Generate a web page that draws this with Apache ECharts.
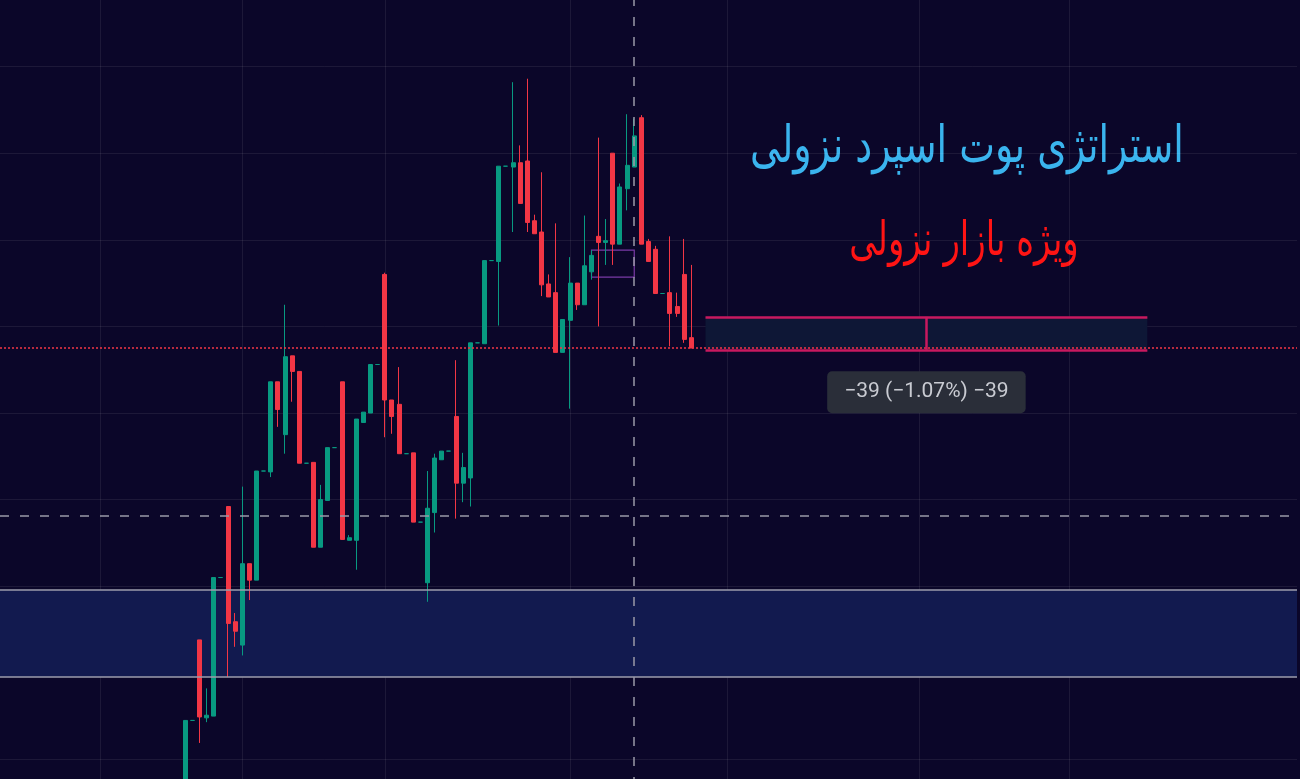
<!DOCTYPE html>
<html dir="ltr" lang="en">
<head>
<meta charset="utf-8">
<script src="https://cdn.jsdelivr.net/npm/echarts@6/dist/echarts.min.js"></script>
<style>
html,body{margin:0;padding:0;background:#0b0629;overflow:hidden;width:1300px;height:779px;}
#chart{position:absolute;left:0;top:-20px;width:1300px;height:866px;direction:ltr;}
</style>
</head>
<body>
<div id="chart"></div>
<script>
// ---- data ----
const opens  = [3053,3145,3238,3148,3150,3310,3392,3259,3232,3326,3307,3433,3432,3536,3475,3566,3548,3442,3443,3345,3399,3460,3536,3353,3353,3489,3500,3556,3660,3515,3510,3453,3454,3374,3304,3385,3446,3456,3496,3419,3425,3581,3580,3676,3675,3785,3784,3789,3791,3722,3709,3649,3639,3570,3607,3650,3625,3663,3704,3697,3800,3695,3759,3784,3841,3698,3689,3638,3639,3623,3660,3587];
const closes = [3145,3145,3149,3151,3310,3310,3257,3248,3326,3307,3433,3433,3536,3504,3565,3548,3442,3442,3345,3400,3460,3460,3354,3356,3493,3501,3556,3556,3515,3496,3453,3453,3374,3374,3390,3448,3456,3456,3419,3437,3581,3581,3676,3676,3785,3785,3789,3742,3720,3707,3648,3634,3570,3608,3650,3625,3670,3682,3697,3699,3695,3761,3786,3820,3695,3675,3638,3638,3615,3615,3585,3575];
const lows   = [3040,3145,3119,3143,3150,3310,3195,3230,3220,3284,3307,3433,3426,3484,3453,3513,3442,3442,3345,3345,3399,3460,3354,3353,3319,3489,3500,3556,3472,3476,3453,3453,3374,3374,3282,3362,3446,3456,3378,3397,3392,3581,3580,3676,3601,3785,3709,3742,3709,3707,3635,3634,3570,3570,3505,3619,3625,3654,3600,3671,3671,3695,3734,3784,3695,3675,3638,3638,3577,3611,3581,3575];
const highs  = [3145,3145,3238,3182,3310,3310,3392,3269,3415,3326,3433,3433,3536,3536,3625,3566,3548,3442,3443,3417,3460,3460,3536,3359,3493,3501,3556,3556,3662,3515,3553,3453,3454,3374,3433,3453,3456,3456,3561,3454,3581,3581,3676,3676,3785,3785,3882,3809,3886,3729,3778,3660,3719,3608,3680,3650,3728,3688,3818,3724,3800,3765,3845,3840,3844,3701,3693,3638,3704,3639,3701,3671];

const priceTicks = [3000,3100,3200,3300,3400,3500,3600,3700,3800,3900,4000];
const slotCount = 183;            // bar slots across the visible time range
const firstSlot = 26;             // slot of the first visible candle
const timeGridSlots = [14,34,54,80,102,129,150];
const crosshairSlot = 89;
const crosshairPrice = 3381;
const zoneLow = 3195, zoneHigh = 3296;
const rangeFrom = 99, rangeMid = 130, rangeTo = 161;
const rangeTop = 3611, rangeBottom = 3573;
const rangeLabelPrice = 3524;
const rangeLabel = '\u202D\u221239 (\u22121.07%) \u221239\u202C';
const boxFrom = 83, boxTo = 89, boxTop = 3688, boxBottom = 3657;
const title1 = 'استراتژی پوت اسپرد نزولی';
const title2 = 'ویژه بازار نزولی';

// ---- build ----
const categories = [];
const candles = [];
for (let i = 0; i < slotCount; i++) {
  categories.push(String(i));
  const k = i - firstSlot;
  if (k >= 0 && k < opens.length) candles.push([opens[k], closes[k], lows[k], highs[k]]);
  else candles.push('-');
}
const lastClose = closes[closes.length - 1];
const UP = '#089981', DOWN = '#f23645';
const GRID = 'rgba(255,255,255,0.075)';

const chart = echarts.init(document.getElementById('chart'), null, {renderer: 'canvas'});
chart.setOption({
  animation: false,
  backgroundColor: '#0b0629',
  grid: {left: 0, right: 3, top: 0, bottom: 0},
  xAxis: {
    type: 'category', data: categories, boundaryGap: false,
    axisLine: {show: false}, axisTick: {show: false}, axisLabel: {show: false},
    splitLine: {show: true, interval: (idx) => timeGridSlots.indexOf(idx) >= 0,
      lineStyle: {color: GRID, width: 1}}
  },
  yAxis: {
    type: 'value', min: priceTicks[0], max: priceTicks[priceTicks.length - 1],
    interval: priceTicks[1] - priceTicks[0],
    axisLine: {show: false}, axisTick: {show: false}, axisLabel: {show: false},
    splitLine: {show: true, lineStyle: {color: GRID, width: 1}}
  },
  series: [
    {
      type: 'line', data: [], z: 1, silent: true,
      markArea: {
        silent: true,
        data: [
          [{yAxis: zoneLow, itemStyle: {color: '#121a4f'}}, {yAxis: zoneHigh}],
          [{coord: [rangeFrom, rangeTop], itemStyle: {color: '#0e1736'}}, {coord: [rangeTo, rangeBottom]}],
          [{coord: [boxFrom, boxTop], itemStyle: {color: 'rgba(0,0,0,0)', borderColor: '#7a3aa6', borderWidth: 1.2}}, {coord: [boxTo, boxBottom]}]
        ]
      },
      markLine: {
        silent: true, symbol: ['none', 'none'], label: {show: false},
        lineStyle: {color: '#9d9cab', width: 1.5, type: 'solid'},
        data: [{yAxis: zoneLow}, {yAxis: zoneHigh}]
      }
    },
    {
      type: 'candlestick', data: candles, z: 2, barWidth: 4.5,
      itemStyle: {color: UP, color0: DOWN, borderColor: UP, borderColor0: DOWN, borderWidth: 1}
    },
    {
      type: 'line', data: [], z: 3, silent: true,
      markLine: {
        silent: true, symbol: ['none', 'none'], label: {show: false},
        data: [
          {yAxis: lastClose, lineStyle: {color: '#f23645', width: 1.5, type: [2, 2]}},
          {yAxis: crosshairPrice, lineStyle: {color: '#9a99a8', width: 1.5, type: [9, 11]}},
          {xAxis: crosshairSlot, lineStyle: {color: '#9a99a8', width: 1.5, type: [9, 11]}},
          [{coord: [rangeFrom, rangeTop], lineStyle: {color: '#c8195f', width: 2.5, type: 'solid'}}, {coord: [rangeTo, rangeTop]}],
          [{coord: [rangeFrom, rangeBottom], lineStyle: {color: '#c8195f', width: 2.5, type: 'solid'}}, {coord: [rangeTo, rangeBottom]}],
          [{coord: [rangeMid, rangeTop], lineStyle: {color: '#c8195f', width: 2.5, type: 'solid'}}, {coord: [rangeMid, rangeBottom]}]
        ]
      },
      markPoint: {
        silent: true,
        data: [{
          coord: [rangeMid, rangeLabelPrice], symbol: 'rect', symbolSize: 1,
          itemStyle: {color: 'rgba(0,0,0,0)'},
          label: {show: true, position: 'inside', formatter: rangeLabel, color: '#c9cbd2',
            fontSize: 21, fontFamily: 'Roboto, "Liberation Sans", sans-serif',
            backgroundColor: '#2a2e39', borderRadius: 5, padding: [11, 17, 10, 17]}
        }]
      }
    }
  ],
  graphic: [
    {type: 'text', x: 967, y: 169, scaleY: 1.35, originX: 0, originY: 0,
      style: {text: title1, fill: '#3ab4ee',
      font: '38px "DejaVu Sans"', textAlign: 'center', textVerticalAlign: 'middle'}},
    {type: 'text', x: 964, y: 263, scaleY: 1.4, originX: 0, originY: 0,
      style: {text: title2, fill: '#ff1414',
      font: '34px "DejaVu Sans"', textAlign: 'center', textVerticalAlign: 'middle'}}
  ]
});
</script>
</body>
</html>
